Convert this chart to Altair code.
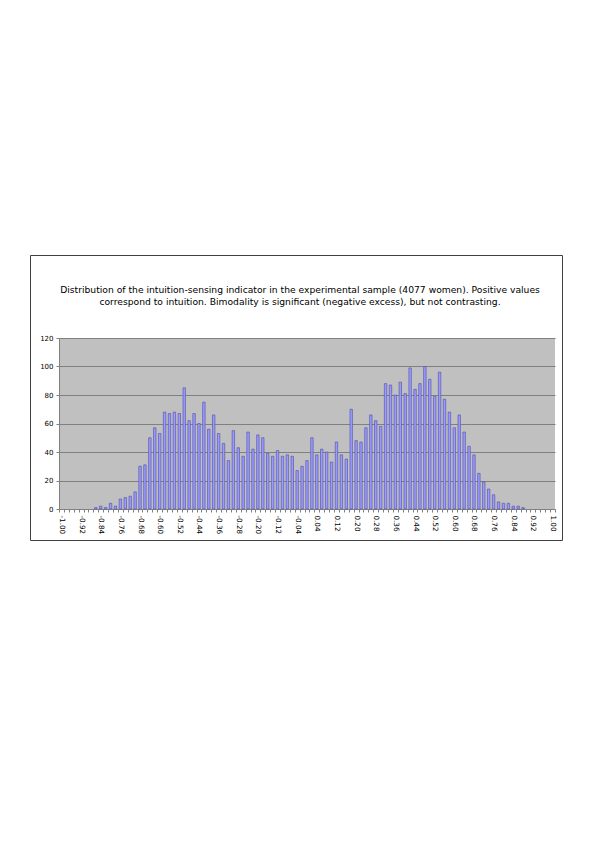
import altair as alt
import pandas as pd

# Category labels: indicator values from -1.00 to 1.00 in steps of 0.02
categories = [f"{(2 * i - 100) / 100:.2f}" for i in range(101)]

# Counts per category
counts = (
    [0] * 7
    + [1, 2, 1, 4, 2, 7, 8, 9, 12, 30,
       31, 50, 57, 53, 68, 67, 68, 67, 85, 62,
       67, 60, 75, 56, 66, 53, 46, 34, 55, 43,
       37, 54, 42, 52, 50, 39, 37, 41, 37, 38,
       37, 27, 30, 34, 50, 38, 42, 40, 33, 47,
       38, 35, 70, 48, 47, 57, 66, 62, 58, 88,
       87, 80, 89, 81, 99, 84, 88, 100, 91, 79,
       96, 77, 68, 57, 66, 54, 44, 38, 25, 19,
       14, 10, 5, 4, 4, 2, 2, 1]
    + [0] * 6
)

y_ticks = [0, 20, 40, 60, 80, 100, 120]

title_lines = [
    "Distribution of the intuition-sensing indicator in the experimental sample (4077 women). Positive values",
    "correspond to intuition. Bimodality is significant (negative excess), but not contrasting.",
]

df = pd.DataFrame({"indicator": categories, "count": counts})

W, H = 496, 171
FONT = "DejaVu Sans"

bars = alt.Chart(df).transform_filter("datum.count > 0").mark_bar(
    width=alt.RelativeBandSize(0.5),
    fill="#9999FF",
    stroke="#4d4da6",
    strokeWidth=0.6,
).encode(
    x=alt.X(
        "indicator:O",
        sort=categories,
        scale=alt.Scale(domain=categories, paddingInner=0, paddingOuter=0),
        axis=alt.Axis(
            title=None,
            labelAngle=90,
            labelAlign="left",
            labelBaseline="middle",
            labelExpr="round((toNumber(datum.value) + 1) * 50) % 4 == 0 ? datum.value : ''",
            labelOverlap=False,
            labelFlush=False,
            tickBand="extent",
            tickSize=3,
            labelPadding=3,
            labelFontSize=7.2,
            labelFont=FONT,
            labelColor="black",
            domainColor="#808080",
            tickColor="#808080",
            grid=False,
        ),
    ),
    y=alt.Y(
        "count:Q",
        scale=alt.Scale(domain=[0, 120], nice=False),
        axis=alt.Axis(
            title=None,
            values=y_ticks,
            grid=True,
            gridColor="#808080",
            gridWidth=1,
            tickSize=3,
            labelPadding=3,
            labelFontSize=7,
            labelFont=FONT,
            labelColor="black",
            domainColor="#808080",
            tickColor="#808080",
        ),
    ),
)

frame = alt.Chart(pd.DataFrame({"f": [0]})).mark_rect(
    filled=False, stroke="#404040", strokeWidth=1, clip=False
).encode(
    x=alt.value(-28.5), x2=alt.value(503.5), y=alt.value(-82.5), y2=alt.value(202.5)
)

title_layers = []
for k, line in enumerate(title_lines):
    title_layers.append(
        alt.Chart(pd.DataFrame({"line": [line]})).mark_text(
            font=FONT, fontSize=9.2, color="black", align="center", baseline="middle", clip=False
        ).encode(text="line:N", x=alt.value(241), y=alt.value(-48 + 12 * k))
    )

chart = alt.layer(bars, frame, *title_layers).properties(
    width=W,
    height=H,
    padding={"left": 51, "top": 330, "right": 30, "bottom": 60},
    autosize=alt.AutoSizeParams(type="none"),
    background="white",
).configure_view(fill="#C0C0C0", strokeWidth=0)

chart.save("out.html", embed_options={"renderer": "svg", "actions": False})
